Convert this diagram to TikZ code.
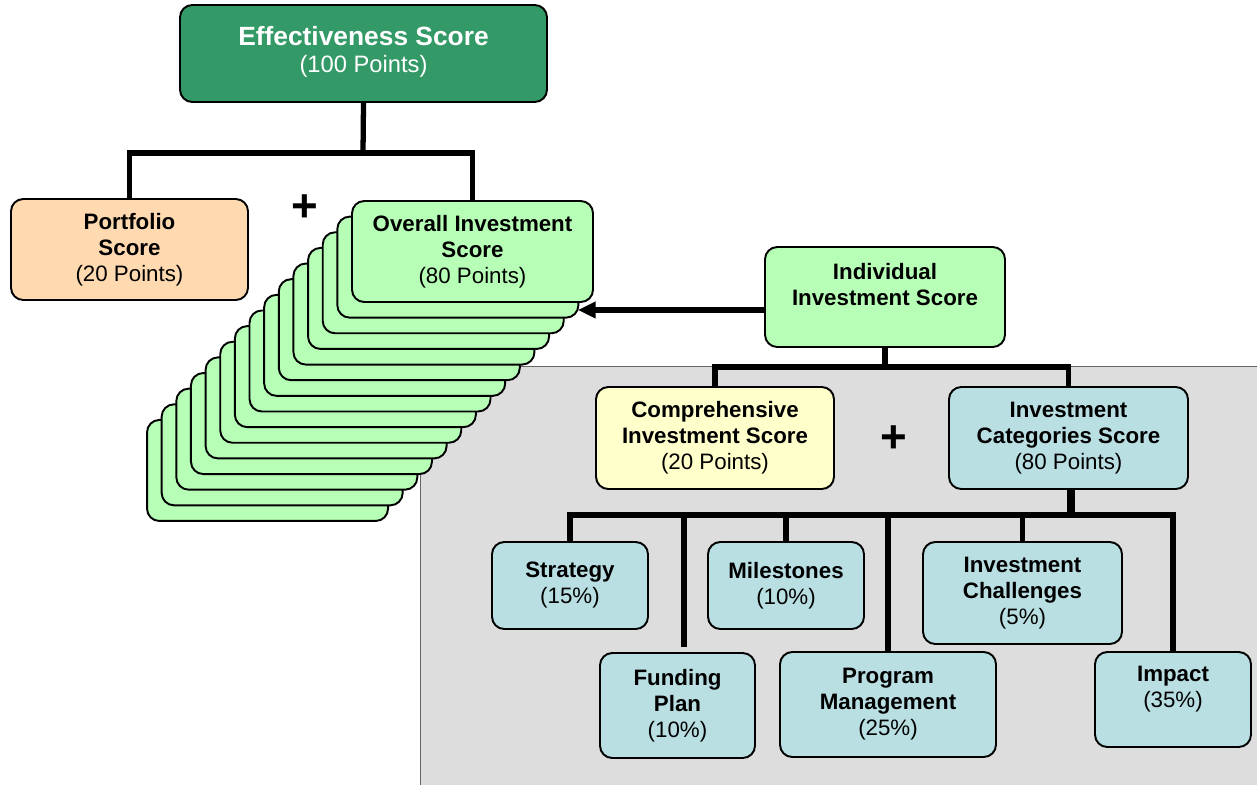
\documentclass[tikz,border=0pt]{standalone}
\usepackage{fontspec}
\setmainfont{Liberation Sans}
\usetikzlibrary{arrows.meta,positioning}

\definecolor{effgreen}{RGB}{51,153,102}
\definecolor{peach}{RGB}{255,217,176}
\definecolor{mint}{RGB}{183,255,183}
\definecolor{paleyellow}{RGB}{255,255,204}
\definecolor{paleblue}{RGB}{185,223,227}
\definecolor{bggrey}{RGB}{221,221,221}

\begin{document}
\begin{tikzpicture}[x=0.02cm,y=-0.02cm,
	box/.style={draw=black,line width=1.1pt,rounded corners=7pt,align=center,inner sep=2pt,
		font=\fontsize{12.7}{14.8}\selectfont},
	boxsize/.style 2 args={minimum width=#1*0.02cm,minimum height=#2*0.02cm},
	card/.style={draw=black,line width=1.1pt,rounded corners=7pt,fill=mint},
	conn/.style={line width=3pt},
	plus/.style={font=\fontsize{26}{26}\selectfont\bfseries,inner sep=0pt}]

	\useasboundingbox (0,0) rectangle (1257,784);

	% Grey area behind the individual score breakdown
	\fill[bggrey] (420,366) rectangle (1262,790);
	\draw[black!60,thin] (1262,366) -- (420,366) -- (420,790);

	% Top of the tree
	\node[box,fill=effgreen,text=white,boxsize={367}{97}] (eff) at (363.5,53.5)
		{{\fontsize{15}{17}\selectfont\bfseries Effectiveness Score}\\[0.5pt]{\fontsize{13.5}{17}\selectfont (100 Points)}\\[-10pt]\mbox{}};
	\node[box,fill=peach,boxsize={237}{101}] (port) at (129.5,249.5)
		{\textbf{Portfolio}\\\textbf{Score}\\(20 Points)};
	\node[plus] (plusA) at (305,208) {+};

	% Stack of investment cards
	\foreach \i in {14,13,...,1}
		\draw[card] ({352-14.64*\i},{201+15.64*\i}) rectangle ++(241,101);
	\node[box,fill=mint,boxsize={241}{101}] (overall) at (472.5,251.5)
		{\textbf{Overall Investment}\\\textbf{Score}\\(80 Points)};

	\coordinate (effbar) at (363,153);
	\draw[conn] (eff.south) -- (effbar);
	\draw[conn] (port.north) |- (effbar) -| (overall.north);

	% Individual investment
	\node[box,fill=mint,boxsize={240}{100}] (ind) at (885,297)
		{\textbf{Individual}\\\textbf{Investment Score}\\\mbox{}};
	\coordinate (stackhit) at (578,310);
	\draw[conn,-{Triangle[length=10pt,width=9pt]}] (ind.west |- stackhit) -- (stackhit);

	\node[box,fill=paleyellow,boxsize={238}{102}] (comp) at (715,438)
		{\textbf{Comprehensive}\\\textbf{Investment Score}\\(20 Points)};
	\node[plus] (plusB) at (894,439) {+};
	\node[box,fill=paleblue,boxsize={239}{102}] (cat) at (1068.5,438)
		{\textbf{Investment}\\\textbf{Categories Score}\\(80 Points)};

	\coordinate (indbar) at (885,367);
	\draw[conn] (ind.south) -- (indbar);
	\draw[conn] (comp.north) |- (indbar) -| (cat.north);

	% Investment categories
	\node[box,fill=paleblue,boxsize={156}{87}] (strat) at (570,585.5)
		{\textbf{Strategy}\\(15\%)};
	\node[box,fill=paleblue,boxsize={155}{105}] (fund) at (677.5,705.5)
		{\textbf{Funding}\\\textbf{Plan}\\(10\%)};
	\node[box,fill=paleblue,boxsize={156}{87}] (mile) at (786,585.5)
		{\textbf{Milestones}\\(10\%)};
	\node[box,fill=paleblue,boxsize={216}{105}] (prog) at (888,704.5)
		{\textbf{Program}\\\textbf{Management}\\(25\%)};
	\node[box,fill=paleblue,boxsize={199}{102}] (chal) at (1022.5,593)
		{\textbf{Investment}\\\textbf{Challenges}\\(5\%)};
	\node[box,fill=paleblue,boxsize={156}{95}] (impact) at (1173,699.5)
		{\textbf{Impact}\\(35\%)\\\mbox{}};

	\coordinate (catbar) at (1071,515);
	\coordinate (fundend) at (684,647);
	\draw[conn,line width=4.5pt] (catbar |- cat.south) -- (catbar);
	\draw[conn] (strat.north) |- (catbar) -| (impact.north);
	\draw[conn] (fundend) -- (fundend |- catbar);
	\draw[conn] (mile.north) -- (mile.north |- catbar);
	\draw[conn] (prog.north) -- (prog.north |- catbar);
	\draw[conn] (chal.north) -- (chal.north |- catbar);
\end{tikzpicture}
\end{document}
